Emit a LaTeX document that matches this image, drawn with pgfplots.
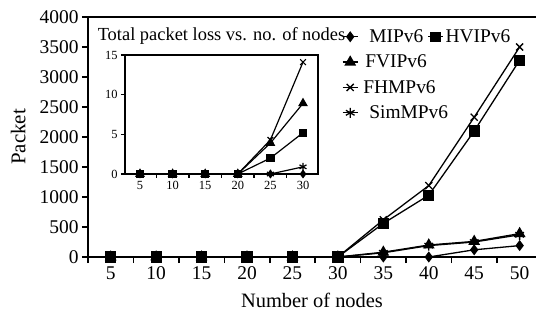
\documentclass[border=0pt]{standalone}
\usepackage{pgfplots}
\pgfplotsset{compat=1.18}
\usepackage{fontspec}
\setmainfont{Liberation Serif}
\begin{document}
\begin{tikzpicture}
\begin{axis}[
  name=main,
  scale only axis, width=448bp, height=240bp,
  xmin=2.5, xmax=51.8, ymin=0, ymax=4000,
  axis x line=box, axis y line=left,
  axis line style={-, line width=1.6bp},
  xtick pos=left, ytick pos=left,
  tick align=outside,
  xtick={5,10,...,50}, minor xtick={2.5,7.5,...,47.5},
  major x tick style={draw=none},
  ytick={0,500,...,4000},
  major tick length=6bp, minor tick length=6bp,
  tick style={line width=1.6bp, black},
  /pgf/number format/assume math mode=true,
  /pgf/number format/1000 sep={},
  ticklabel style={font=\fontsize{19.5}{22}\selectfont},
  xlabel={Number of nodes}, ylabel={Packet},
  xlabel style={font=\fontsize{20.5}{24}\selectfont, at={(axis description cs:0.5,-0.18)}, anchor=center},
  ylabel style={font=\fontsize{21}{24}\selectfont, at={(axis description cs:-0.156,0.5)}, anchor=center},
  clip=false,
  legend columns=2,
  legend cell align=left,
  legend style={draw=none, fill=none, at={(0.560,0.965)}, anchor=north west,
    font=\fontsize{19.5}{21}\selectfont, row sep=7bp, column sep=0bp},
  legend image code/.code={\draw[mark repeat=2,mark phase=2,#1] plot coordinates {(0bp,0bp) (7.5bp,0bp) (15bp,0bp)};},
  every axis plot/.append style={black, line width=1.3bp, mark options={solid, fill=black}},
]
\addlegendimage{black, line width=1.3bp, mark=diamond*, mark size=4.5bp, mark options={fill=black}}
\addlegendentry{\hspace{9bp}\makebox[56bp][l]{MIPv6}}
\addlegendimage{black, line width=1.3bp, mark=square*, mark size=4.5bp, mark options={fill=black}}
\addlegendentry{HVIPv6}
\addlegendimage{black, line width=1.3bp, mark=triangle*, mark size=5.5bp, mark options={fill=black}}
\addlegendentry{\hspace{5bp}\makebox[60bp][l]{FVIPv6}}
\addlegendimage{empty legend}
\addlegendentry{}
\addlegendimage{black, line width=1.3bp, mark=x, mark size=5bp}
\addlegendentry{\hspace{3bp}\makebox[62bp][l]{FHMPv6}}
\addlegendimage{empty legend}
\addlegendentry{}
\addlegendimage{black, line width=1.3bp, mark=asterisk, mark size=5bp}
\addlegendentry{\hspace{9bp}\makebox[56bp][l]{SimMPv6}}

% MIPv6
\addplot[forget plot, mark=diamond*, mark size=4.5bp] coordinates {
 (5,0) (10,0) (15,0) (20,0) (25,0) (30,0) (35,0) (40,0) (45,120) (50,190)};
% SimMPv6
\addplot[forget plot, mark=asterisk, mark size=5bp] coordinates {
 (5,0) (10,0) (15,0) (20,0) (25,0) (30,0) (35,70) (40,190) (45,250) (50,370)};
% FVIPv6
\addplot[forget plot, mark=triangle*, mark size=5.5bp] coordinates {
 (5,0) (10,0) (15,0) (20,0) (25,0) (30,0) (35,80) (40,200) (45,260) (50,390)};
% FHMPv6
\addplot[forget plot, mark=x, mark size=5bp] coordinates {
 (5,0) (10,0) (15,0) (20,0) (25,0) (30,0) (35,620) (40,1190) (45,2330) (50,3500)};
% HVIPv6
\addplot[forget plot, mark=square*, mark size=5bp] coordinates {
 (5,0) (10,0) (15,0) (20,0) (25,0) (30,0) (35,560) (40,1030) (45,2100) (50,3280)};
\end{axis}

\begin{axis}[
  at={(37bp,83bp)}, anchor=south west,
  scale only axis, width=193bp, height=119bp,
  xmin=2.7, xmax=32.3, ymin=0, ymax=15,
  xtick={5,10,...,30}, minor xtick={7.5,12.5,...,27.5},
  major x tick style={draw=none},
  ytick={0,5,10,15},
  xtick pos=left, ytick pos=left,
  tick align=outside,
  major tick length=4bp, minor tick length=4bp,
  tick style={line width=1.4bp, black},
  axis line style={line width=1.4bp},
  /pgf/number format/assume math mode=true,
  ticklabel style={font=\fontsize{12.5}{14}\selectfont},
  title={Total packet loss vs. no. of nodes},
  title style={font=\fontsize{18.5}{21}\selectfont, at={(0.5,1)}, anchor=south, yshift=1bp},
  clip=false,
  every axis plot/.append style={black, line width=1.2bp, mark options={solid, fill=black}},
]
\addplot[mark=diamond*, mark size=3.5bp] coordinates {
 (5,0) (10,0) (15,0) (20,0) (25,0) (30,0)};
\addplot[mark=asterisk, mark size=4bp] coordinates {
 (5,0) (10,0) (15,0) (20,0) (25,0) (30,0.9)};
\addplot[mark=triangle*, mark size=4.5bp] coordinates {
 (5,0) (10,0) (15,0) (20,0) (25,3.9) (30,8.9)};
\addplot[mark=x, mark size=4bp] coordinates {
 (5,0) (10,0) (15,0) (20,0) (25,4.3) (30,14.1)};
\addplot[mark=square*, mark size=3.5bp] coordinates {
 (5,0) (10,0) (15,0) (20,0) (25,2.0) (30,5.2)};
\end{axis}
\pgfresetboundingbox
\path[use as bounding box] (main.south west) ++(-88bp,-57bp) rectangle ++(536bp,314bp);
\end{tikzpicture}
\end{document}
